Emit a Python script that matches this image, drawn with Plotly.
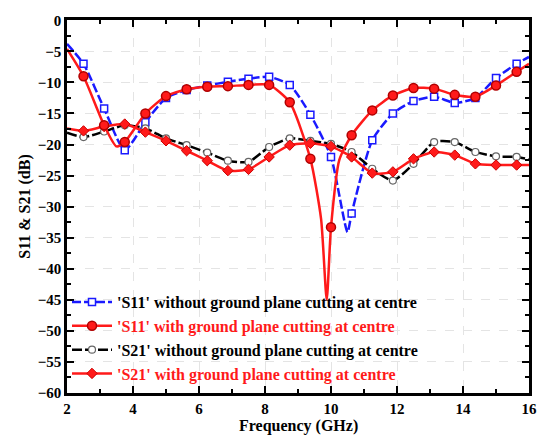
import plotly.graph_objects as go

# Marker frequencies (GHz) shared by all curves
marker_freq = [2.5, 3.125, 3.75, 4.375, 5.0, 5.625, 6.25, 6.875, 7.5, 8.125, 8.75,
               9.375, 10.0, 10.625, 11.25, 11.875, 12.5, 13.125, 13.75, 14.375, 15.0, 15.625]

# 'S11' without ground plane cutting (blue)
s11_wo_f = [2.0, 2.5, 3.125, 3.75, 4.375, 5.0, 5.625, 6.25, 6.875, 7.5, 8.125, 8.75, 9.375,
            10.0, 10.5, 10.625, 11.25, 11.875, 12.5, 13.125, 13.75, 14.375, 15.0, 15.625, 16.0]
s11_wo_db = [-3.8, -7.0, -14.2, -20.9, -16.4, -12.5, -11.2, -10.5, -9.9, -9.4, -9.1, -10.4, -15.2,
             -22.0, -34.1, -31.1, -19.3, -15.0, -13.0, -12.3, -13.3, -12.5, -9.3, -7.0, -5.9]

# 'S11' with ground plane cutting (red)
s11_w_f = [2.0, 2.5, 3.125, 3.5, 3.75, 4.375, 5.0, 5.625, 6.25, 6.875, 7.5, 8.125, 8.75, 9.375,
           9.7, 9.87, 10.0, 10.25, 10.625, 11.25, 11.875, 12.5, 13.125, 13.75, 14.375, 15.0, 15.625, 16.0]
s11_w_db = [-4.6, -9.0, -16.9, -20.3, -19.6, -15.0, -12.2, -11.1, -10.7, -10.6, -10.4, -10.4, -13.2, -22.3,
            -32.0, -45.0, -33.3, -22.5, -18.5, -14.5, -12.1, -10.9, -11.0, -12.0, -12.3, -10.5, -8.3, -7.0]

# 'S21' without ground plane cutting (black)
s21_wo_f = [2.0, 2.5, 3.125, 3.75, 4.375, 5.0, 5.625, 6.25, 6.875, 7.5, 8.125, 8.75, 9.375,
            10.0, 10.625, 11.25, 11.875, 12.5, 13.125, 13.75, 14.375, 15.0, 15.625, 16.0]
s21_wo_db = [-18.1, -18.8, -17.9, -16.9, -17.4, -19.0, -20.1, -21.3, -22.6, -22.8, -20.4, -19.0, -19.4,
             -19.9, -21.2, -23.9, -25.8, -23.1, -19.6, -19.6, -21.2, -21.9, -22.0, -22.4]

# 'S21' with ground plane cutting (red)
s21_w_f = [2.0, 2.5, 3.125, 3.75, 4.375, 5.0, 5.625, 6.25, 6.875, 7.5, 8.125, 8.75, 9.375,
           10.0, 10.625, 11.25, 11.875, 12.5, 13.125, 13.75, 14.375, 15.0, 15.625, 16.0]
s21_w_db = [-17.4, -17.8, -17.1, -16.7, -18.0, -19.4, -21.0, -22.6, -24.2, -24.0, -22.0, -20.1, -19.8,
            -20.3, -22.0, -24.6, -24.4, -22.3, -21.2, -21.7, -23.1, -23.3, -23.3, -23.3]

names = ["'S11' without ground plane cutting at centre",
         "'S11' with ground plane cutting at centre",
         "'S21' without ground plane cutting at centre",
         "'S21' with ground plane cutting at centre"]

FONT = "Times New Roman, Liberation Serif, serif"
RED = "#ff1a1a"
BLUE = "#1a1aff"

series = [
    dict(f=s11_wo_f, y=s11_wo_db, name=names[0], text="black",
         line=dict(color=BLUE, width=2.5, dash="9px,3px"),
         marker=dict(symbol="square", size=7, color="white", line=dict(color=BLUE, width=1.5))),
    dict(f=s21_wo_f, y=s21_wo_db, name=names[2], text="black",
         line=dict(color="black", width=2.5, dash="10px,3px"),
         marker=dict(symbol="circle", size=7, color="white", line=dict(color="#666666", width=1.2))),
    dict(f=s21_w_f, y=s21_w_db, name=names[3], text=RED,
         line=dict(color=RED, width=2.5),
         marker=dict(symbol="diamond", size=8, color=RED, line=dict(color="#cc0000", width=1))),
    dict(f=s11_w_f, y=s11_w_db, name=names[1], text=RED,
         line=dict(color=RED, width=2.5),
         marker=dict(symbol="circle", size=9, color=RED, line=dict(color="#b00000", width=1.5))),
]

fig = go.Figure()
for s in series:
    fig.add_trace(go.Scatter(x=s["f"], y=s["y"], mode="lines", line=dict(shape="spline", smoothing=0.6, **s["line"]),
                             showlegend=False, hoverinfo="skip"))
    lookup = dict(zip(s["f"], s["y"]))
    mx = [f for f in marker_freq if f in lookup]
    my = [lookup[f] for f in mx]
    fig.add_trace(go.Scatter(x=mx, y=my, mode="markers", marker=s["marker"], showlegend=False))

legend_order = [series[0], series[3], series[1], series[2]]
for i, s in enumerate(legend_order):
    fig.add_trace(go.Scatter(x=[None], y=[None], mode="lines+markers",
                             line=s["line"], marker=s["marker"],
                             name="<span style='color:%s'><b>%s</b></span>" % (s["text"], s["name"]),
                             legendgroup="g%d" % i, legendrank=i + 1))

axis_common = dict(showline=True, linewidth=2.5, linecolor="black", mirror="ticks",
                   ticks="inside", ticklen=7, tickwidth=2, tickcolor="black",
                   showgrid=True, gridcolor="#e4e4e4", griddash="dash", gridwidth=1,
                   zeroline=False, automargin=False, ticklabeloverflow="allow",
                   tickfont=dict(family=FONT, size=15, color="black", weight="bold"))

# page body adds an 8px margin, so the figure is 8px smaller than the window
fig.update_layout(
    width=540, height=431,
    margin=dict(l=59, r=19, t=12, b=46),
    paper_bgcolor="white", plot_bgcolor="white",
    font=dict(family=FONT, size=16, color="black"),
    xaxis=dict(range=[2, 16], tick0=2, dtick=2,
               minor=dict(ticks="inside", ticklen=4, tickwidth=2, dtick=1, tickcolor="black", showgrid=False),
               **axis_common),
    yaxis=dict(range=[-60, 0.05], tick0=0, dtick=5,
               minor=dict(ticks="inside", ticklen=4, tickwidth=2, dtick=2.5, tickcolor="black", showgrid=False),
               title=dict(text="<b>S11 & S21 (dB)</b>", font=dict(family=FONT, size=16), standoff=4),
               **axis_common),
    legend=dict(x=0.0, y=0.005, xanchor="left", yanchor="bottom", bgcolor="rgba(0,0,0,0)",
                font=dict(family=FONT, size=16), itemwidth=40, tracegroupgap=0,
                traceorder="grouped"),
    annotations=[dict(text="<b>Frequency (GHz)</b>", xref="paper", yref="paper", x=0.5, y=-0.118,
                      xanchor="center", yanchor="bottom", showarrow=False,
                      font=dict(family=FONT, size=16, color="black"))],
)

fig.write_html("out.html", config={"displayModeBar": False})
